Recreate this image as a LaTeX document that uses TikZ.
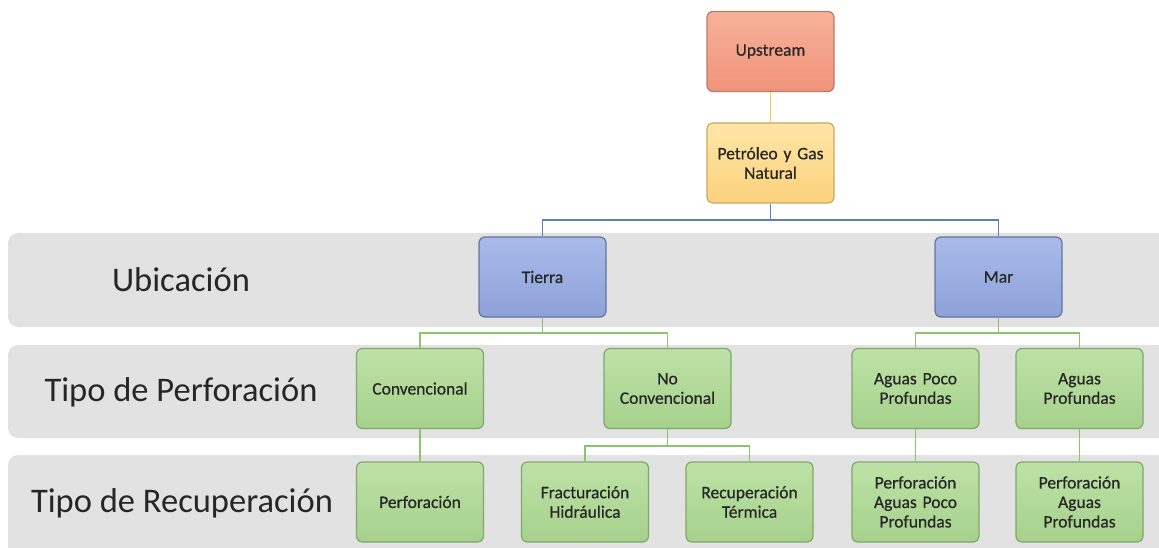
\documentclass[tikz,border=0pt]{standalone}
\usepackage{fontspec}
\setmainfont{Carlito}
\newfontfamily\boxfont[FakeBold=0.6]{Carlito}
\definecolor{bandgray}{HTML}{E2E2E2}
\definecolor{redtop}{HTML}{F7B299}
\definecolor{redbot}{HTML}{F0937A}
\definecolor{redline}{HTML}{B97C6C}
\definecolor{yeltop}{HTML}{FFE6A8}
\definecolor{yelbot}{HTML}{FCD27C}
\definecolor{yelline}{HTML}{C8A862}
\definecolor{blutop}{HTML}{AABBEA}
\definecolor{blubot}{HTML}{8DA2DA}
\definecolor{bluline}{HTML}{64749F}
\definecolor{grntop}{HTML}{BDE2A6}
\definecolor{grnbot}{HTML}{A6D18C}
\definecolor{grnline}{HTML}{7FA76C}
\definecolor{txt}{HTML}{262626}
\definecolor{yconn}{HTML}{F5C94A}
\definecolor{bconn}{HTML}{5B7FC7}
\definecolor{gconn}{HTML}{8CC46A}
\tikzset{
  box/.style={draw, line width=1.2pt, rounded corners=6pt, minimum width=127pt, minimum height=80pt,
    align=center, text width=124pt, font=\boxfont\fontsize{17.5}{19.5}\selectfont, text=txt, inner sep=0pt},
  redbox/.style={box, draw=redline, top color=redtop, bottom color=redbot},
  yelbox/.style={box, draw=yelline, top color=yeltop, bottom color=yelbot},
  blubox/.style={box, draw=bluline, top color=blutop, bottom color=blubot},
  grnbox/.style={box, draw=grnline, top color=grntop, bottom color=grnbot},
  band/.style={fill=bandgray, rounded corners=10pt},
  bandlabel/.style={font=\fontsize{34.5}{37}\selectfont, text=txt, inner sep=0pt},
  yc/.style={draw=yconn, line width=1.8pt},
  bc/.style={draw=bconn, line width=1.8pt},
  gc/.style={draw=gconn, line width=1.8pt},
}
\begin{document}
\begin{tikzpicture}[x=1pt,y=-1pt]
\useasboundingbox (0,0) rectangle (1159,548);
% bands
\fill[band] (8,233) rectangle (1175,327);
\fill[band] (8,345) rectangle (1175,438);
\fill[band] (8,455) rectangle (1175,565);
\node[bandlabel] (l1) at (181,280) {Ubicación};
\node[bandlabel] (l2) at (181,392) {Tipo de Perforación};
\node[bandlabel] (l3) at (182,503) {Tipo de Recuperación};
% nodes
\node[redbox] (up) at (770.5,51.5) {Upstream};
\node[yelbox] (pg) at (770.5,163) {Petróleo y Gas\\Natural};
\node[blubox] (ti) at (542.5,277) {Tierra};
\node[blubox] (ma) at (998.5,277) {Mar};
\node[grnbox] (cv) at (420,388.5) {Convencional};
\node[grnbox] (nc) at (667.5,388.5) {No\\Convencional};
\node[grnbox] (ap) at (915.5,388.5) {Aguas Poco\\Profundas};
\node[grnbox] (af) at (1079.5,388.5) {Aguas\\Profundas};
\node[grnbox] (pf) at (420,502) {Perforación};
\node[grnbox] (fh) at (585,502) {Fracturación\\Hidráulica};
\node[grnbox] (rt) at (749.5,502) {Recuperación\\Térmica};
\node[grnbox] (pap) at (915.5,502) {Perforación\\Aguas Poco\\Profundas};
\node[grnbox] (paf) at (1079.5,502) {Perforación\\Aguas\\Profundas};
% connectors
\path[yc] (up.south) -- (pg.north);
\path[bc] (pg.south) |- (770.5,220) -| (ti.north);
\path[bc] (770.5,220) -| (ma.north);
\path[gc] (ti.south) |- (542.5,333) -| (cv.north);
\path[gc] (542.5,333) -| (nc.north);
\path[gc] (ma.south) |- (998.5,333) -| (ap.north);
\path[gc] (998.5,333) -| (af.north);
\path[gc] (cv.south) -- (pf.north);
\path[gc] (nc.south) |- (667.5,446) -| (fh.north);
\path[gc] (667.5,446) -| (rt.north);
\path[gc] (ap.south) -- (pap.north);
\path[gc] (af.south) -- (paf.north);
\end{tikzpicture}
\end{document}
